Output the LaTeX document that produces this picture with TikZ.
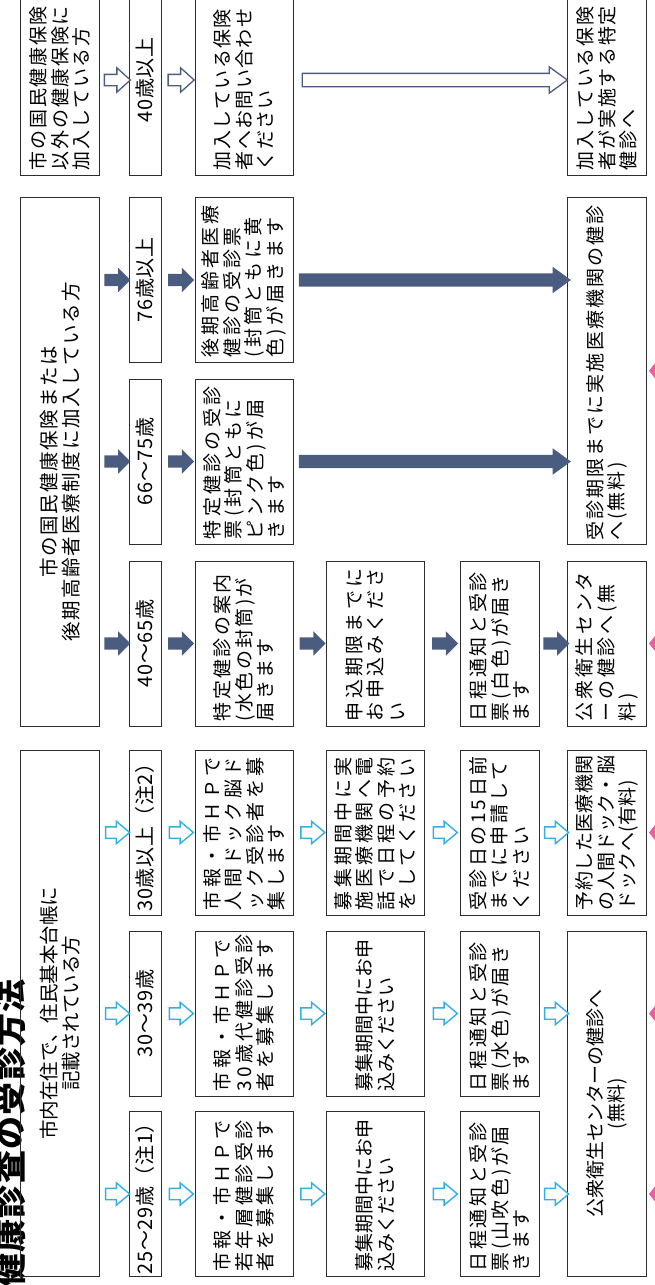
\documentclass[tikz,border=0pt]{standalone}
\usepackage{fontspec}
\usepackage{tikz}
\usetikzlibrary{shapes.arrows, calc}
\newfontfamily\jp{Noto Sans CJK JP}
\newcommand{\bodyfont}{\jp\fontsize{19}{21.5}\selectfont}
\newcommand{\agefont}{\jp\fontsize{20}{22}\selectfont}
\newcommand{\hdrfont}{\jp\fontsize{19.5}{22}\selectfont}
\definecolor{boxline}{RGB}{45,45,45}
\definecolor{cyanline}{RGB}{50,175,228}
\definecolor{slate}{RGB}{74,92,128}
\definecolor{pinkmark}{RGB}{232,96,160}

\begin{document}
\begin{tikzpicture}[
            x=1pt, y=-1pt, % pixel coordinates, y downwards
            txtbox/.style={draw=boxline, line width=1pt, rotate=90, inner sep=0pt, align=left, font=\bodyfont, minimum width=165pt, text width=155pt}, % rotated text box
            ls/.style={font=\bodyfont\addfontfeature{LetterSpace=#1}}, % letter spacing
            colwide/.style={minimum height=98pt}, % columns C and D
            colnarrow/.style={minimum height=79pt}, % columns A, E and F
            agebox/.style={txtbox, minimum height=32pt, align=center, text width=160pt, font=\agefont\addfontfeature{LetterSpace=3}},
            cyanarr/.style={single arrow, draw=cyanline, fill=white, line width=1.4pt, inner sep=5pt, minimum height=24pt, single arrow head extend=5.5pt, single arrow tip angle=80},
            darrow/.style={single arrow, fill=slate, inner sep=6pt, minimum height=26pt, single arrow head extend=6pt},
            harrow/.style={single arrow, draw=slate, fill=white, line width=1.3pt, inner sep=5pt, minimum height=26pt, single arrow head extend=6.5pt, single arrow tip angle=84},
            longarr/.style={single arrow tip angle=72, single arrow head extend=6.5pt}
            ]
        \useasboundingbox (0,0) rectangle (655,1285);
        \clip (0,0) rectangle (655,1285);

        % title
        \node[rotate=90, inner sep=0pt, font=\jp\bfseries\fontsize{33}{33}\selectfont\addfontfeature{LetterSpace=4}] (ttl) at (10,1133) {健康診査の受診方法};

        % header boxes
        \node[txtbox, colnarrow, align=center, font=\hdrfont, minimum width=526.5pt, text width=510pt] (h1) at (60,1013.25) {市内在住で、住民基本台帳に\\記載されている方};
        \node[txtbox, colnarrow, align=center, font=\hdrfont\addfontfeature{LetterSpace=9}, minimum width=528.5pt, text width=510pt] (h2) at (60,461.75) {市の国民健康保険または\\後期高齢者医療制度に加入している方};
        \node[txtbox, colnarrow, ls=9, minimum width=190pt, text width=180pt] (h3) at (60,80) {市の国民健康保険\\以外の健康保険に\\加入している方};

        % 25~29
        \node[agebox] (b1) at (145,1194) {25～29歳（注1）};
        \node[txtbox, colwide, ls=16] (c1) at (244,1194) {市報・市ＨＰで\\若年層健診受診\\者を募集します};
        \node[txtbox, colwide, ls=0] (d1) at (375,1194) {募集期間中にお申\\込みください};
        \node[txtbox, colnarrow, ls=14] (e1) at (499.5,1194) {日程通知と受診\\票(山吹色)が届\\きます};

        % 30~39
        \node[agebox] (b2) at (145,1013.5) {30～39歳};
        \node[txtbox, colwide, ls=16] (c2) at (244,1013.5) {市報・市ＨＰで\\30歳代健診受診\\者を募集します};
        \node[txtbox, colwide, ls=0] (d2) at (375,1013.5) {募集期間中にお申\\込みください};
        \node[txtbox, colnarrow, ls=14] (e2) at (499.5,1013.5) {日程通知と受診\\票(水色)が届き\\ます};
        \node[txtbox, colnarrow, align=center, minimum width=345.5pt, text width=335pt] (f12) at (607,1103.75) {公衆衛生センターの健診へ\\(無料)};

        % 30 and over, dock
        \node[agebox] (b3) at (145,832.5) {30歳以上（注2）};
        \node[txtbox, colwide, ls=17] (c3) at (244,832.5) {市報・市ＨＰで\\人間ドック脳ド\\ック受診者を募\\集します};
        \node[txtbox, colwide, ls=17] (d3) at (375,832.5) {募集期間中に実\\施医療機関へ電\\話で日程の予約\\をしてください};
        \node[txtbox, colnarrow, ls=14] (e3) at (499.5,832.5) {受診日の15日前\\までに申請して\\ください};
        \node[txtbox, colnarrow, ls=2] (f3) at (607,832.5) {予約した医療機関\\の人間ドック・脳\\ドックへ(有料)};

        % 40~65
        \node[agebox] (b4) at (145,643.5) {40～65歳};
        \node[txtbox, colwide, ls=12] (c4) at (244,643.5) {特定健診の案内\\(水色の封筒)が\\届きます};
        \node[txtbox, colwide, ls=17] (d4) at (375,643.5) {申込期限までに\\お申込みくださ\\い};
        \node[txtbox, colnarrow, ls=14] (e4) at (499.5,643.5) {日程通知と受診\\票(白色)が届き\\ます};
        \node[txtbox, colnarrow, ls=14] (f4) at (607,643.5) {公衆衛生センタ\\ーの健診へ(無\\料)};

        % 66~75 and 76 and over
        \node[agebox] (b5) at (145,461.5) {66～75歳};
        \node[txtbox, colwide, ls=17] (c5) at (244,461.5) {特定健診の受診\\票(封筒ともに\\ピンク色)が届\\きます};
        \node[agebox] (b6) at (145,280) {76歳以上};
        \node[txtbox, colwide, ls=17] (c6) at (244,280) {後期高齢者医療\\健診の受診票\\(封筒ともに黄\\色)が届きます};
        \node[txtbox, colnarrow, ls=11, minimum width=346.5pt, text width=340pt] (f56) at (607,370.75) {受診期限までに実施医療機関の健診\\へ(無料)};

        % other insurance
        \node[agebox, minimum width=190pt] (b7) at (145,80) {40歳以上};
        \node[txtbox, colwide, ls=7, minimum width=190pt, text width=180pt] (c7) at (244,80) {加入している保険\\者へお問い合わせ\\ください};
        \node[txtbox, colnarrow, ls=9, minimum width=190pt, text width=180pt] (f7) at (607,80) {加入している保険\\者が実施する特定\\健診へ};

        % light blue arrows
        \foreach \r/\f in {1/f12, 2/f12, 3/f3} {
            \node[cyanarr] (ab\r) at ($(h1.south |- b\r)!.5!(b\r.north)$) {};
            \node[cyanarr] (bc\r) at ($(b\r.south)!.5!(c\r.north)$) {};
            \node[cyanarr] (cd\r) at ($(c\r.south)!.5!(d\r.north)$) {};
            \node[cyanarr] (de\r) at ($(d\r.south)!.5!(e\r.north)$) {};
            \node[cyanarr] (ef\r) at ($(e\r.south)!.5!(\f.north |- e\r)$) {};
        }

        % dark arrows
        \foreach \r in {4,5,6} {
            \node[darrow] (ab\r) at ($(h2.south |- b\r)!.5!(b\r.north)$) {};
            \node[darrow] (bc\r) at ($(b\r.south)!.5!(c\r.north)$) {};
        }
        \node[darrow] (cd4) at ($(c4.south)!.5!(d4.north)$) {};
        \node[darrow] (de4) at ($(d4.south)!.5!(e4.north)$) {};
        \node[darrow] (ef4) at ($(e4.south)!.5!(f4.north)$) {};
        \foreach \r in {5,6}
            \node[darrow, longarr, inner sep=6.5pt, minimum height=272pt] (cf\r) at ($(c\r.south)!.5!(f56.north |- c\r)$) {};

        % hollow arrows
        \node[harrow] (ab7) at ($(h3.south)!.5!(b7.north)$) {};
        \node[harrow] (bc7) at ($(b7.south)!.5!(c7.north)$) {};
        \node[harrow, longarr, inner sep=6pt, minimum height=265pt] (cf7) at ($(c7.south)!.5!(f7.north)$) {};

        % pink marks at the right edge
        \foreach \r in {b1,b2,b3,b4,f56}
            \fill[pinkmark] (f12.south |- \r.center) ++(2,0) -- ++(20,-25) -- ++(0,50) -- cycle;

\end{tikzpicture}
\end{document}
